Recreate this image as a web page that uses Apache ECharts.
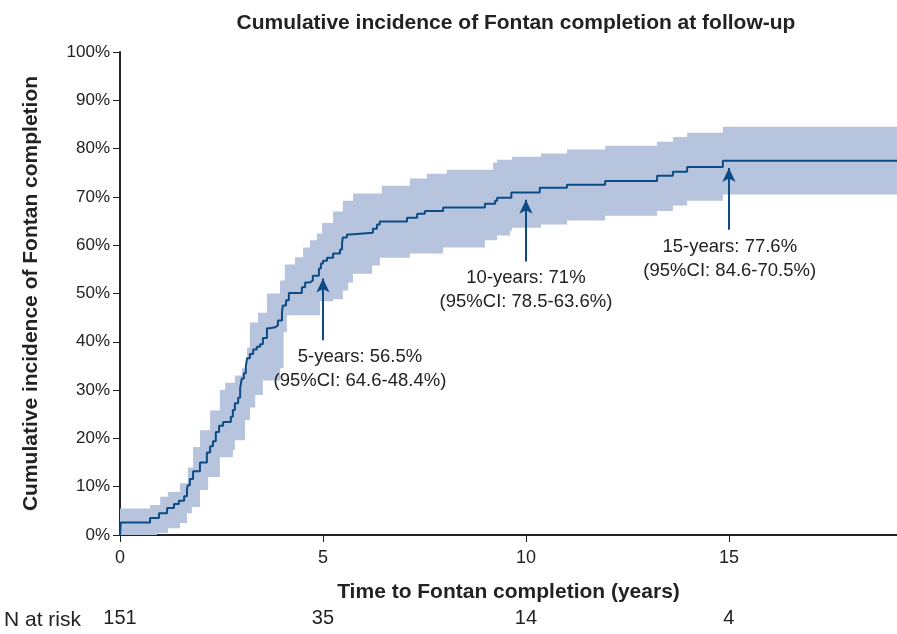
<!DOCTYPE html>
<html lang="en">
<head>
<meta charset="UTF-8">
<title>Cumulative incidence of Fontan completion</title>
<script src="https://cdn.jsdelivr.net/npm/echarts@6/dist/echarts.min.js"></script>
<style>
    html, body { margin: 0; padding: 0; background: #fff; }
    #container { width: 897px; height: 634px; }
</style>
</head>
<body>
<div id="container"></div>
<script type="text/javascript">
    // Kaplan-Meier style estimate (years, %)
    const estYears = [0, 0.02, 0.74, 0.96, 1.16, 1.33, 1.45, 1.58, 1.65, 1.67, 1.72, 1.80, 1.97, 2.14, 2.22, 2.29, 2.36, 2.44, 2.54,
        2.73, 2.78, 2.83, 2.91, 2.96, 3.00, 3.05, 3.10, 3.13, 3.20, 3.28, 3.37, 3.45, 3.52, 3.62, 3.69, 3.82, 3.89, 3.99, 4.01,
        4.09, 4.16, 4.48, 4.56, 4.68, 4.75, 4.90, 4.95, 5.00, 5.10, 5.25, 5.42, 5.47, 5.49, 5.59, 5.67, 6.23, 6.33, 6.40, 7.07,
        7.32, 7.51, 7.96, 8.99, 9.24, 9.29, 9.64, 10.34, 11.01, 11.95, 13.23, 13.62, 13.97, 14.85, 19.14];
    const estPct = [0, 2.6, 3.5, 4.5, 5.6, 6.4, 7.1, 8.0, 9.5, 10.3, 11.6, 13.2, 15.0, 17.1, 18.4, 19.4, 21.3, 22.6, 23.4,
        24.5, 25.9, 27.3, 28.4, 30.4, 32.4, 33.5, 34.9, 36.6, 37.5, 38.4, 39.0, 39.5, 40.8, 42.8, 43.0, 43.4, 44.4, 46.1, 47.5,
        48.6, 50.1, 51.3, 52.3, 52.7, 53.7, 55.2, 56.2, 56.8, 57.4, 58.3, 59.1, 60.5, 61.6, 62.2, 62.6, 63.4, 64.3, 64.9, 65.7,
        66.5, 67.1, 67.8, 68.6, 69.2, 69.8, 70.9, 71.9, 72.5, 73.3, 74.4, 75.2, 76.2, 77.5, 77.5];

    // 95% confidence band (years, lower %, upper %)
    const ciYears = [0, 0.74, 0.91, 0.99, 1.18, 1.48, 1.65, 1.67, 1.77, 1.80, 1.97, 2.17, 2.22, 2.46, 2.59, 2.78, 2.83, 3.00,
        3.08, 3.13, 3.20, 3.33, 3.40, 3.52, 3.62, 3.94, 4.03, 4.06, 4.11, 4.31, 4.51, 4.68, 4.85, 4.93, 4.98, 5.25, 5.49, 5.62, 5.74,
        6.21, 6.40, 6.45, 7.14, 7.56, 7.96, 8.05, 8.99, 9.19, 9.29, 9.61, 9.66, 10.37, 11.01, 11.95, 13.23, 13.62, 13.97, 14.85, 19.14];
    const ciLower = [0, 0, 0.4, 0.4, 1.4, 2.5, 4.5, 4.5, 5.8, 5.8, 9.3, 12.0, 12.0, 16.1, 16.1, 17.6, 19.6, 19.6,
        23.8, 23.8, 26.4, 29.0, 29.0, 32.0, 32.0, 34.5, 42.0, 42.0, 45.5, 45.5, 45.5, 45.5, 45.5, 48.4, 48.4, 48.8, 50.6, 52.3, 54.1,
        55.8, 57.4, 57.4, 58.3, 58.3, 59.5, 59.5, 61.0, 61.0, 62.0, 63.0, 63.6, 64.3, 65.1, 66.1, 67.1, 68.2, 69.2, 70.5, 70.5];
    const ciUpper = [5.5, 6.2, 6.2, 7.9, 8.9, 10.7, 10.7, 14.0, 14.0, 18.2, 21.7, 21.7, 25.8, 30.0, 31.5, 31.5, 33.0, 34.5,
        34.5, 38.8, 44.0, 44.0, 46.0, 46.0, 50.0, 52.7, 52.7, 56.0, 56.0, 57.5, 59.5, 61.0, 62.4, 62.4, 64.6, 67.0, 69.2, 69.2, 70.7,
        70.7, 70.7, 72.3, 73.8, 74.8, 74.8, 75.6, 75.6, 77.1, 77.7, 77.7, 78.3, 79.0, 79.8, 80.6, 81.4, 82.4, 83.3, 84.5, 84.5];

    // axis ticks and numbers at risk
    const xTicks = [0, 5, 10, 15];
    const nAtRisk = [151, 35, 14, 4];

    // annotations: arrow at year, arrow from/to (%), text centre (year, %), text
    const noteYears = [5, 10, 15];
    const noteArrowFrom = [40.3, 56.6, 63.2];
    const noteArrowTo = [53.1, 69.4, 76.0];
    const noteTextX = [5.91, 10.0, 15.02];
    const noteTextY = [34.3, 50.7, 57.2];
    const noteText = [
        '5-years: 56.5%\n(95%CI: 64.6-48.4%)',
        '10-years: 71%\n(95%CI: 78.5-63.6%)',
        '15-years: 77.6%\n(95%CI: 84.6-70.5%)'
    ];

    const FONT = '"Liberation Sans", Arial, Helvetica, sans-serif';
    const LINE = '#0d4b85';
    const BAND = '#b7c4de';
    const AXIS = '#222';

    const dom = document.getElementById('container');
    const myChart = echarts.init(dom, null, { renderer: 'canvas' });

    // step shaped polygon for the confidence band, through the axis scales
    function renderBand(params, api) {
        const pts = [];
        const n = ciYears.length;
        for (let i = 0; i < n; i++) {
            const next = i < n - 1 ? ciYears[i + 1] : ciYears[i];
            pts.push(api.coord([ciYears[i], ciUpper[i]]));
            pts.push(api.coord([next, ciUpper[i]]));
        }
        for (let i = n - 1; i >= 0; i--) {
            const next = i < n - 1 ? ciYears[i + 1] : ciYears[i];
            pts.push(api.coord([next, ciLower[i]]));
            pts.push(api.coord([ciYears[i], ciLower[i]]));
        }
        return {
            type: 'polygon',
            shape: { points: pts },
            style: { fill: BAND, stroke: null }
        };
    }

    const option = {
        animation: false,
        textStyle: { fontFamily: FONT, color: AXIS },
        title: {
            text: 'Cumulative incidence of Fontan completion at follow-up',
            left: 511, top: 8, textAlign: 'center',
            textStyle: { fontFamily: FONT, fontSize: 21, fontWeight: 'bold', color: AXIS }
        },
        grid: { left: 120, right: 0, top: 52, bottom: 99 },
        xAxis: [
            {
                type: 'value', min: 0, max: 19.14, interval: 5,
                name: 'Time to Fontan completion (years)',
                nameLocation: 'middle', nameGap: 47,
                nameTextStyle: { fontFamily: FONT, fontSize: 21, fontWeight: 'bold', color: AXIS },
                axisLine: { show: true, onZero: false, lineStyle: { color: AXIS, width: 2 } },
                axisTick: { show: true, length: 7, customValues: xTicks, lineStyle: { color: AXIS, width: 1 } },
                axisLabel: { customValues: xTicks, fontSize: 18, color: AXIS, margin: 14 },
                splitLine: { show: false }
            },
            {
                type: 'value', min: 0, max: 19.14, position: 'bottom', offset: 58,
                axisLine: { show: false },
                axisTick: { show: false },
                splitLine: { show: false },
                axisLabel: {
                    customValues: xTicks, fontSize: 20, color: AXIS, margin: 15,
                    formatter: function (v) {
                        const i = xTicks.indexOf(v);
                        return i >= 0 ? String(nAtRisk[i]) : '';
                    }
                }
            }
        ],
        yAxis: {
            type: 'value', min: 0, max: 100, interval: 10,
            name: 'Cumulative incidence of Fontan completion',
            nameLocation: 'middle', nameGap: 78,
            nameTextStyle: { fontFamily: FONT, fontSize: 21, fontWeight: 'bold', color: AXIS },
            axisLine: { show: true, lineStyle: { color: AXIS, width: 2 } },
            axisTick: { show: true, length: 7, lineStyle: { color: AXIS, width: 1 } },
            axisLabel: { formatter: '{value}%', fontSize: 17, color: AXIS, margin: 10 },
            splitLine: { show: false }
        },
        graphic: [
            {
                type: 'text', left: 4, top: 610,
                style: { text: 'N at risk', font: '21px ' + FONT, fill: AXIS }
            }
        ],
        series: [
            {
                name: 'band', type: 'custom', silent: true, z: 1,
                renderItem: renderBand,
                data: [[0, 0]]
            },
            {
                name: 'estimate', type: 'line', step: 'end',
                symbol: 'none', z: 3,
                lineStyle: { color: LINE, width: 2 },
                data: estYears.map((t, i) => [t, estPct[i]]),
                markLine: {
                    silent: true,
                    symbol: ['none', 'arrow'],
                    symbolSize: [10, 14],
                    label: { show: false },
                    lineStyle: { color: LINE, width: 2, type: 'solid' },
                    data: noteYears.map((y, i) => [
                        { coord: [y, noteArrowFrom[i]] },
                        { coord: [y, noteArrowTo[i]] }
                    ])
                },
                markPoint: {
                    silent: true,
                    symbol: 'circle', symbolSize: 1,
                    itemStyle: { color: 'rgba(0,0,0,0)' },
                    label: {
                        show: true, position: 'inside', align: 'center', verticalAlign: 'middle',
                        fontFamily: FONT, fontSize: 18.5, lineHeight: 24, color: AXIS
                    },
                    data: noteText.map((t, i) => ({
                        coord: [noteTextX[i], noteTextY[i]],
                        label: { formatter: t }
                    }))
                }
            }
        ]
    };

    myChart.setOption(option);
    window.addEventListener('resize', myChart.resize);
</script>
</body>
</html>
